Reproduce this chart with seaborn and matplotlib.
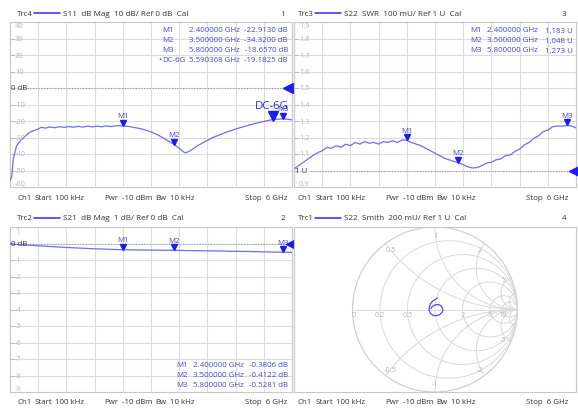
import numpy as np
import matplotlib
matplotlib.use("Agg")
import matplotlib.pyplot as plt
from matplotlib import transforms
from matplotlib.lines import Line2D
from matplotlib.patches import Circle
import seaborn as sns

W, H = 578, 410

# ---------------------------------------------------------------------------
# Data
# ---------------------------------------------------------------------------
# S11, dB Mag (Trc4)
f_s11 = [0.0001, 0.036, 0.07, 0.14, 0.25, 0.42, 0.6, 0.67, 0.75, 0.85, 0.95,
         1.05, 1.15, 1.25, 1.35, 1.45, 1.55, 1.65, 1.75, 1.85, 1.95, 2.05,
         2.15, 2.25, 2.4, 2.55, 2.7, 2.85, 3.0, 3.15, 3.3, 3.5, 3.62, 3.72,
         3.8, 3.9, 4.0, 4.15, 4.3, 4.45, 4.6, 4.75, 4.9, 5.05, 5.2, 5.35,
         5.5, 5.59, 5.7, 5.8, 5.9, 6.0]
s11_db = [-56, -54, -43, -35, -31, -26.8, -24.8, -23.8, -24.3, -23.6, -24.1,
          -23.4, -23.9, -23.3, -23.8, -23.2, -23.7, -23.1, -23.6, -23.1, -23.5,
          -23.0, -23.4, -22.9, -22.91, -23.4, -24.2, -25.2, -26.6, -28.5,
          -31.0, -34.32, -37.0, -39.3, -38.6, -36.8, -34.8, -32.5, -30.2,
          -28.5, -26.8, -25.4, -24.0, -22.8, -21.6, -20.6, -19.6, -19.18,
          -18.9, -18.66, -18.9, -19.3]
m_s11_f = [2.4, 3.5, 5.8]
m_s11_v = [-22.9130, -34.3200, -18.6570]
dc6g_f = 5.590368
dc6g_v = -19.1825

# S22, SWR (Trc3)
f_swr = [0.0001, 0.15, 0.3, 0.45, 0.6, 0.7, 0.8, 0.9, 1.0, 1.1, 1.2, 1.3,
         1.4, 1.5, 1.6, 1.7, 1.8, 1.9, 2.0, 2.1, 2.2, 2.3, 2.4, 2.5, 2.6, 2.7,
         2.8, 2.9, 3.0, 3.1, 3.2, 3.3, 3.4, 3.5, 3.6, 3.7, 3.8, 3.9, 4.0, 4.1,
         4.2, 4.3, 4.4, 4.5, 4.6, 4.7, 4.8, 4.9, 5.0, 5.1, 5.2, 5.3, 5.4, 5.5,
         5.6, 5.7, 5.8, 5.9, 6.0]
swr = [1.01, 1.04, 1.07, 1.10, 1.12, 1.14, 1.135, 1.15, 1.14, 1.16, 1.15,
       1.17, 1.16, 1.175, 1.165, 1.17, 1.16, 1.175, 1.17, 1.18, 1.17, 1.185,
       1.183, 1.17, 1.16, 1.15, 1.135, 1.12, 1.105, 1.09, 1.075, 1.065, 1.055,
       1.048, 1.035, 1.022, 1.015, 1.018, 1.03, 1.045, 1.05, 1.065, 1.07,
       1.09, 1.095, 1.115, 1.13, 1.155, 1.17, 1.195, 1.21, 1.235, 1.245,
       1.265, 1.27, 1.268, 1.273, 1.27, 1.258]
m_swr_f = [2.4, 3.5, 5.8]
m_swr_v = [1.183, 1.048, 1.273]

# S21, dB Mag (Trc2)
f_s21 = [0.0001, 0.3, 0.6, 0.9, 1.2, 1.5, 1.8, 2.1, 2.4, 2.7, 3.0, 3.3, 3.5,
         3.8, 4.1, 4.4, 4.7, 5.0, 5.3, 5.6, 5.8, 6.0]
s21_db = [-0.02, -0.08, -0.14, -0.19, -0.24, -0.28, -0.32, -0.35, -0.3806,
          -0.39, -0.40, -0.41, -0.4122, -0.43, -0.44, -0.45, -0.47, -0.48,
          -0.50, -0.52, -0.5281, -0.54]
m_s21_f = [2.4, 3.5, 5.8]
m_s21_v = [-0.3806, -0.4122, -0.5281]

# S22, Smith (Trc1) -- reflection coefficient, real / imag
smith_re = [0.03, 0.0, -0.03, -0.055, -0.07, -0.07, -0.055, -0.02, 0.02,
            0.06, 0.09, 0.095, 0.08, 0.045, 0.0, -0.035, -0.05]
smith_im = [0.14, 0.12, 0.10, 0.07, 0.03, -0.01, -0.05, -0.072, -0.075,
            -0.06, -0.03, 0.0, 0.04, 0.06, 0.055, 0.035, 0.01]

s11_ticks = [40, 30, 20, 10, 0, -10, -20, -30, -40, -50, -60]
swr_ticks = [1.9, 1.8, 1.7, 1.6, 1.5, 1.4, 1.3, 1.2, 1.1, 1.0, 0.9]
s21_ticks = [1, 0, -1, -2, -3, -4, -5, -6, -7, -8, -9]
smith_r = [0.2, 0.5, 1, 2, 5, 10]
smith_x = [0.5, 1, 2, 5, 10]
smith_r_labels = [("0", 0), ("0.2", 0.2), ("0.5", 0.5), ("2", 2), ("5", 5), ("10", 10)]
smith_x_labels = [("0.5", 0.5), ("1", 1), ("2", 2), ("5", 5)]

# ---------------------------------------------------------------------------
# Style
# ---------------------------------------------------------------------------
sns.set_theme(style="white")
plt.rcParams["font.family"] = ["Open Sans", "DejaVu Sans"]

TRACE = "#6e6ef2"
MARK = "#1c1cf0"
INFO = "#4646dc"
TXT = "#333333"
LBL = "#b8b8b8"
GRID = "#dcdcdc"
FRAME = "#c8c8c8"
SMITH = "#d9d9d9"
FS = 5.7

fig = plt.figure(figsize=(W / 100, H / 100), dpi=100)
fig.patch.set_facecolor("white")


def px_axes(x0, y0, x1, y1):
    return fig.add_axes([x0 / W, 1 - y1 / H, (x1 - x0) / W, (y1 - y0) / H])


def ftext(x, y, s, **kw):
    kw.setdefault("color", TXT)
    kw.setdefault("fontsize", FS)
    kw.setdefault("va", "center")
    fig.text(x / W, 1 - y / H, s, **kw)


def header(x0, y, trc, desc, num):
    ftext(x0 + 7, y, trc)
    fig.add_artist(Line2D([(x0 + 24) / W, (x0 + 50) / W], [1 - y / H] * 2,
                          color="#3c3cff", lw=1.2))
    ftext(x0 + 53, y, desc, fontsize=5.9)
    ftext(x0 + 273, y, num, ha="center")


def footer(x0, y):
    for dx, s in [(7, "Ch1"), (25, "Start"), (45, "100 kHz"), (94, "Pwr"),
                  (112, "-10 dBm"), (145, "Bw"), (160, "10 kHz")]:
        ftext(x0 + dx, y, s)
    ftext(x0 + 277, y, "Stop  6 GHz", ha="right")


def off(ax, trans, dx=0, dy=0):
    return transforms.offset_copy(trans, fig=fig, x=dx, y=dy, units="dots")


def rect_panel(box, xs, ys, ticks, fmt, ref, ref_label):
    ax = px_axes(*box)
    sns.lineplot(x=xs, y=ys, ax=ax, color=TRACE, lw=0.9, sort=False,
                 estimator=None, zorder=3)
    ax.set_xlim(0.0001, 6)
    ax.set_ylim(min(ticks), max(ticks))
    ax.set_xticks(np.linspace(0.0001, 6, 11))
    ax.set_yticks(ticks)
    ax.grid(True, color=GRID, lw=0.8)
    ax.tick_params(left=True, bottom=False, labelleft=False, labelbottom=False,
                   direction="in", length=3, color=LBL, width=0.7)
    ax.set_xlabel("")
    ax.set_ylabel("")
    for sp in ax.spines.values():
        sp.set_color(FRAME)
        sp.set_linewidth(0.8)
    bl = transforms.blended_transform_factory(ax.transAxes, ax.transData)
    for i, v in enumerate(ticks):
        if abs(v - ref) < 1e-9:
            continue
        va = "top" if i == 0 else ("bottom" if i == len(ticks) - 1 else "center")
        ax.text(0, v, fmt(v), transform=off(ax, bl, 5), fontsize=FS - 0.3,
                color=LBL, va=va, ha="left")
    # reference line and arrow
    ax.text(0, ref, ref_label, transform=off(ax, bl, 1), fontsize=FS,
            color=TXT, va="center", ha="left", zorder=4)
    ax.plot([0.06, 1], [ref, ref], transform=bl, color="#9a9a9a", lw=0.8,
            ls=(0, (1, 1.5)), zorder=2)
    return ax, bl


def markers(ax, fs, vs, names):
    for f, v, n in zip(fs, vs, names):
        ax.plot([f], [v], marker="v", ms=4.2, color=MARK, ls="none",
                transform=off(ax, ax.transData, 0, 3), clip_on=False, zorder=5)
        ax.text(f, v, n, transform=off(ax, ax.transData, 0, 10), fontsize=FS,
                color=INFO, ha="center", va="center", zorder=5)


def info(x_name, x_freq, x_val, y0, rows):
    for i, (n, f, v) in enumerate(rows):
        y = y0 + 10 * i
        ftext(x_name, y, n, color=INFO)
        ftext(x_freq, y, f"{f:.6f} GHz", color=INFO)
        ftext(x_val, y, v, color=INFO, ha="right")


names = ["M1", "M2", "M3"]

# ---------------------------------------------------------------------------
# Trc4: S11 dB Mag
# ---------------------------------------------------------------------------
header(10, 14, "Trc4", "S11  dB Mag  10 dB/ Ref 0 dB  Cal", "1")
ax1, bl1 = rect_panel((10, 23, 292, 188), f_s11, s11_db, s11_ticks,
                      lambda v: f"{v:d}", 0, "0 dB")
ax1.plot([1], [0], marker="<", ms=7.5, color=MARK, transform=off(ax1, bl1, -4),
         clip_on=False, zorder=6)
markers(ax1, m_s11_f, m_s11_v, names)
ax1.plot([dc6g_f], [dc6g_v], marker="v", ms=6.5, color=MARK, ls="none",
         transform=off(ax1, ax1.transData, 0, 4), clip_on=False, zorder=6)
ax1.text(dc6g_f, dc6g_v, "DC-6G", transform=off(ax1, ax1.transData, -1, 14),
         fontsize=8.2, color="#2a2aee", ha="center", va="center", zorder=6)
info(162, 189, 288, 30,
     [(n, f, f"{v:.4f} dB") for n, f, v in zip(names, m_s11_f, m_s11_v)]
     + [("DC-6G", dc6g_f, f"{dc6g_v:.4f} dB")])
ftext(158, 60, "•", color=INFO)
footer(10, 199)

# ---------------------------------------------------------------------------
# Trc3: S22 SWR
# ---------------------------------------------------------------------------
header(291, 14, "Trc3", "S22  SWR  100 mU/ Ref 1 U  Cal", "3")
ax2, bl2 = rect_panel((294, 23, 576, 188), f_swr, swr, swr_ticks,
                      lambda v: f"{v:.1f}", 1.0, "1 U")
ax2.plot([1], [1.0], marker="<", ms=7, color=MARK, transform=off(ax2, bl2, -2),
         clip_on=False, zorder=6)
markers(ax2, m_swr_f, m_swr_v, names)
info(470, 487, 573, 31,
     [(n, f, f"{v:.3f} U".replace(".", ",")) for n, f, v in zip(names, m_swr_f, m_swr_v)])
footer(291, 199)

# ---------------------------------------------------------------------------
# Trc2: S21 dB Mag
# ---------------------------------------------------------------------------
header(10, 219, "Trc2", "S21  dB Mag  1 dB/ Ref 0 dB  Cal", "2")
ax3, bl3 = rect_panel((10, 228, 292, 393), f_s21, s21_db, s21_ticks,
                      lambda v: f"{v:d}", 0, "0 dB")
ax3.plot([1], [0], marker="<", ms=7.5, color=MARK, transform=off(ax3, bl3, -1),
         clip_on=False, zorder=6)
markers(ax3, m_s21_f, m_s21_v, names)
info(176, 193, 288, 366,
     [(n, f, f"{v:.4f} dB") for n, f, v in zip(names, m_s21_f, m_s21_v)])
footer(10, 403)

# ---------------------------------------------------------------------------
# Trc1: S22 Smith
# ---------------------------------------------------------------------------
header(291, 219, "Trc1", "S22  Smith  200 mU/ Ref 1 U  Cal", "4")
ax4 = px_axes(294, 228, 576, 393)
a = 282 / 165
ax4.set_xlim(-a, a)
ax4.set_ylim(-1, 1)
ax4.set_xticks([])
ax4.set_yticks([])
for sp in ax4.spines.values():
    sp.set_color(FRAME)
    sp.set_linewidth(0.8)
clip = Circle((0, 0), 1, transform=ax4.transData)
ax4.add_patch(Circle((0, 0), 1, fill=False, ec="#cccccc", lw=0.8))
for r in smith_r:
    ax4.add_patch(Circle((r / (1 + r), 0), 1 / (1 + r), fill=False,
                         ec=SMITH, lw=0.7))
for x in smith_x:
    for s in (1, -1):
        c = Circle((1, s / x), 1 / x, fill=False, ec=SMITH, lw=0.7)
        ax4.add_patch(c)
        c.set_clip_path(clip)
ax4.plot([-1, 1], [0, 0], color=SMITH, lw=0.7)
for s, r in smith_r_labels:
    ax4.text((r - 1) / (r + 1) + (0.013 if r == 0 else 0), -0.06, s,
             fontsize=FS - 0.3, color=LBL, ha="center", va="center")
for s, x in smith_x_labels:
    ang = np.pi - 2 * np.arctan(x)
    for sg in (1, -1):
        lab = s if sg > 0 else "-" + s
        ax4.text(0.9 * np.cos(ang), sg * 0.88 * np.sin(ang) + sg * 0.02, lab,
                 fontsize=FS - 0.3, color=LBL, ha="center", va="center")
sns.lineplot(x=smith_re, y=smith_im, ax=ax4, color="#4a4aff", lw=0.9,
             sort=False, estimator=None, zorder=4)
ax4.set_xlabel("")
ax4.set_ylabel("")
footer(291, 403)

plt.savefig("out.png", dpi=100, facecolor="white")
